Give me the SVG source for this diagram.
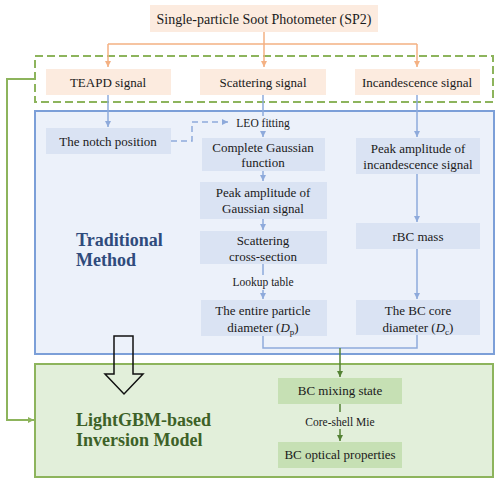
<svg xmlns="http://www.w3.org/2000/svg" width="500" height="484" viewBox="0 0 500 484">
<defs>
<style>
text{fill:#1a1a1a;text-anchor:middle}
.t{font-size:13px}
.s{font-size:11.5px}
.o{fill:#fcebdf}
.b{fill:#dae3f3}
.g{fill:#c6e0b4}
.lo{stroke:#f4b183;stroke-width:1.5;fill:none}
.lb{stroke:#8eaadb;stroke-width:1.5;fill:none}
.lg{stroke:#8db45c;stroke-width:2;fill:none}
.ldg{stroke:#548235;stroke-width:1.5;fill:none}
</style>
<marker id="ao" markerWidth="8" markerHeight="8" refX="6" refY="4" orient="auto" markerUnits="userSpaceOnUse"><path d="M0,1 L6,4 L0,7 Z" fill="#f4b183"/></marker>
<marker id="ab" markerWidth="8" markerHeight="8" refX="6" refY="4" orient="auto" markerUnits="userSpaceOnUse"><path d="M0,1 L6,4 L0,7 Z" fill="#8eaadb"/></marker>
<marker id="ag" markerWidth="8" markerHeight="8" refX="6" refY="4" orient="auto" markerUnits="userSpaceOnUse"><path d="M0,1 L6,4 L0,7 Z" fill="#8db45c"/></marker>
<marker id="adg" markerWidth="8" markerHeight="8" refX="6" refY="4" orient="auto" markerUnits="userSpaceOnUse"><path d="M0,1 L6,4 L0,7 Z" fill="#548235"/></marker>
</defs>
<rect width="500" height="484" fill="#fff"/>
<g font-family="Liberation Serif, Times New Roman, serif">
<g id="containers">
<rect id="traditional" x="35" y="111" width="459" height="243" fill="#ecf1fa" stroke="#7c9fd8" stroke-width="2"/>
<rect id="lightgbm" x="35" y="364" width="458" height="113" fill="#e2efda" stroke="#8db45c" stroke-width="2"/>
<rect id="signals" x="35" y="56" width="458" height="46" fill="none" stroke="#8db45c" stroke-width="2" stroke-dasharray="8,4"/>
<text x="76" y="246" font-size="18" font-weight="bold" style="fill:#2f4b7c;text-anchor:start">Traditional</text>
<text x="76" y="266" font-size="18" font-weight="bold" style="fill:#2f4b7c;text-anchor:start">Method</text>
<text x="76" y="426" font-size="18" font-weight="bold" style="fill:#3d6127;text-anchor:start">LightGBM-based</text>
<text x="76" y="446" font-size="18" font-weight="bold" style="fill:#3d6127;text-anchor:start">Inversion Model</text>
</g>
<g id="connectors">
<path class="lo" d="M264,32 V44 M108,44 H417"/>
<path class="lo" d="M108,44 V67" marker-end="url(#ao)"/>
<path class="lo" d="M264,44 V67" marker-end="url(#ao)"/>
<path class="lo" d="M417,44 V67" marker-end="url(#ao)"/>
<path class="lb" d="M108,95 V127" marker-end="url(#ab)"/>
<path class="lb" d="M171,141 H192 V122 H228" stroke-dasharray="6,4" marker-end="url(#ab)"/>
<path class="lb" d="M263,95 V116"/>
<path class="lb" d="M263,131 V137" marker-end="url(#ab)"/>
<path class="lb" d="M263,171 V181" marker-end="url(#ab)"/>
<path class="lb" d="M263,219 V230" marker-end="url(#ab)"/>
<path class="lb" d="M263,264 V275"/>
<path class="lb" d="M263,290 V299" marker-end="url(#ab)"/>
<path class="lb" d="M417,95 V137" marker-end="url(#ab)"/>
<path class="lb" d="M417,174 V222" marker-end="url(#ab)"/>
<path class="lb" d="M417,249 V299" marker-end="url(#ab)"/>
<path class="lb" d="M263,336 V348 H417 V335"/>
<path class="ldg" d="M340,348 V377" marker-end="url(#adg)"/>
<path class="ldg" d="M340,404 V412"/>
<path class="ldg" d="M340,429 V441" marker-end="url(#adg)"/>
<path class="lg" d="M35,79 H7 V420 H34" marker-end="url(#ag)"/>
<path d="M114,336 H133 V374 H143 L124,394 L105,374 H114 Z" fill="none" stroke="#111" stroke-width="1.5"/>
<text class="s" x="263" y="127">LEO fitting</text>
<text class="s" x="263" y="286">Lookup table</text>
<text class="s" x="340" y="426">Core-shell Mie</text>
</g>
<g id="sp2"><rect class="o" x="150" y="5" width="228" height="27"/><text x="264" y="24" font-size="14">Single-particle Soot Photometer (SP2)</text></g>
<g id="teapd"><rect class="o" x="46" y="69" width="125" height="26"/><text class="t" x="108" y="87">TEAPD signal</text></g>
<g id="scattering"><rect class="o" x="200" y="69" width="126" height="26"/><text class="t" x="263" y="87">Scattering signal</text></g>
<g id="incandescence"><rect class="o" x="355" y="69" width="125" height="26"/><text class="t" x="417" y="87">Incandescence signal</text></g>
<g id="notch"><rect class="b" x="46" y="128" width="125" height="26"/><text class="t" x="108" y="146">The notch position</text></g>
<g id="gaussian"><rect class="b" x="202" y="138" width="123" height="33"/><text class="t" x="263" y="152">Complete Gaussian</text><text class="t" x="263" y="167">function</text></g>
<g id="peakgauss"><rect class="b" x="200" y="182" width="127" height="37"/><text class="t" x="263" y="197">Peak amplitude of</text><text class="t" x="263" y="213">Gaussian signal</text></g>
<g id="crosssection"><rect class="b" x="200" y="231" width="127" height="33"/><text class="t" x="263" y="245">Scattering</text><text class="t" x="263" y="261">cross-section</text></g>
<g id="dp"><rect class="b" x="201" y="300" width="126" height="36"/><text class="t" x="263" y="315">The entire particle</text><text class="t" x="263" y="332">diameter (<tspan font-style="italic">D</tspan><tspan font-size="9" dy="3">p</tspan><tspan dy="-3">)</tspan></text></g>
<g id="peakinc"><rect class="b" x="356" y="138" width="124" height="36"/><text class="t" x="418" y="153">Peak amplitude of</text><text class="t" x="418" y="169">incandescence signal</text></g>
<g id="rbc"><rect class="b" x="356" y="223" width="124" height="26"/><text class="t" x="418" y="241">rBC mass</text></g>
<g id="dc"><rect class="b" x="356" y="300" width="124" height="35"/><text class="t" x="418" y="315">The BC core</text><text class="t" x="418" y="332">diameter (<tspan font-style="italic">D</tspan><tspan font-size="9" dy="3">c</tspan><tspan dy="-3">)</tspan></text></g>
<g id="mixing"><rect class="g" x="278" y="378" width="124" height="26"/><text class="t" x="340" y="395">BC mixing state</text></g>
<g id="optical"><rect class="g" x="278" y="442" width="124" height="26"/><text class="t" x="340" y="459">BC optical properties</text></g>
</g>
</svg>
